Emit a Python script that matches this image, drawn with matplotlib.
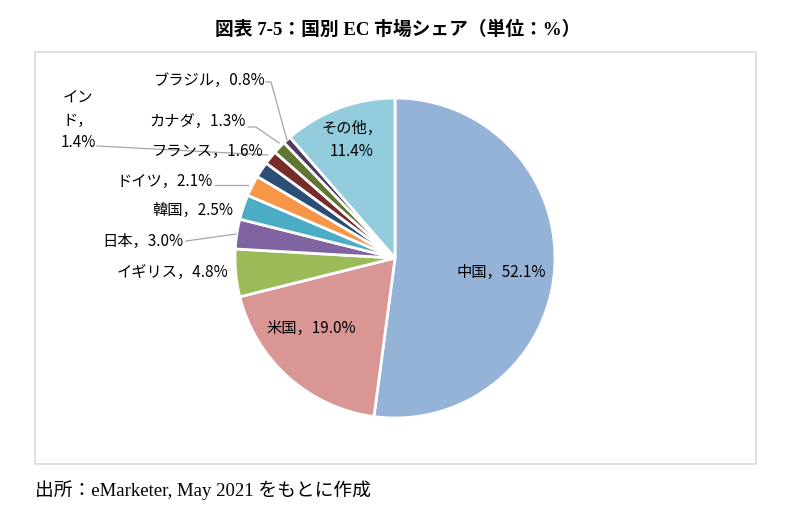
import matplotlib
matplotlib.use("Agg")
import matplotlib.pyplot as plt
from matplotlib.patches import Rectangle

plt.rcParams['font.family'] = ['Noto Sans CJK JP', 'DejaVu Sans']

categories = ["中国", "米国", "イギリス", "日本", "韓国", "ドイツ", "フランス", "インド", "カナダ", "ブラジル", "その他"]
values = [52.1, 19.0, 4.8, 3.0, 2.5, 2.1, 1.6, 1.4, 1.3, 0.8, 11.4]
colors = ["#95B3D7", "#D99694", "#9BBB59", "#8064A2", "#4BACC6", "#F79646",
          "#2C4D75", "#772C2A", "#5F7530", "#4D3B62", "#93CDDD"]
title = "図表 7-5：国別 EC 市場シェア（単位：%）"
source = "出所：eMarketer, May 2021 をもとに作成"

W, H = 800, 519
fig = plt.figure(figsize=(W / 100, H / 100), dpi=100)
ax = fig.add_axes([0, 0, 1, 1])


def Y(y):
    return H - y


# chart border
ax.add_patch(Rectangle((35, Y(464)), 721, 412, fill=False, edgecolor="#D9D9D9", linewidth=1.2))

cx, cy, r = 395, 258, 160
wedges, _ = ax.pie(values, colors=colors, startangle=90, counterclock=False,
                   center=(cx, Y(cy)), radius=r, frame=True,
                   wedgeprops=dict(edgecolor="white", linewidth=2))
ax.set_xlim(0, W)
ax.set_ylim(0, H)
ax.set_aspect("auto")
ax.axis("off")

fs = 11
lab = {c: f"{c}，{v}%" for c, v in zip(categories, values)}

# inside labels
ax.text(501, Y(272), lab["中国"], ha="center", va="center", fontsize=fs)
ax.text(311, Y(328), lab["米国"], ha="center", va="center", fontsize=fs)
ax.text(352, Y(140), "その他，\n11.4%", ha="center", va="center", fontsize=fs, linespacing=1.45)

# outside labels
ax.text(228, Y(272), lab["イギリス"], ha="right", va="center", fontsize=fs)
ax.text(183, Y(241), lab["日本"], ha="right", va="center", fontsize=fs)
ax.text(233, Y(210), lab["韓国"], ha="right", va="center", fontsize=fs)
ax.text(213, Y(181), lab["ドイツ"], ha="right", va="center", fontsize=fs)
ax.text(263, Y(151), lab["フランス"], ha="right", va="center", fontsize=fs)
ax.text(246, Y(121), lab["カナダ"], ha="right", va="center", fontsize=fs)
ax.text(265, Y(80), lab["ブラジル"], ha="right", va="center", fontsize=fs)
ax.text(78, Y(120), "イン\nド，\n1.4%", ha="center", va="center", fontsize=fs, linespacing=1.4)

lc = "#A6A6A6"
lw = 0.9
ax.plot([186, 236], [Y(241), Y(234)], color=lc, lw=lw)
ax.plot([215, 248], [Y(185), Y(185)], color=lc, lw=lw)
ax.plot([97, 268], [Y(146), Y(155)], color=lc, lw=lw)
ax.plot([248, 256, 279], [Y(127), Y(127), Y(143)], color=lc, lw=lw)
ax.plot([266, 271, 287], [Y(82), Y(82), Y(140)], color=lc, lw=lw)

# title and source
fig.text(398 / W, 1 - 30 / H, title, ha="center", va="center", fontsize=13.5,
         fontweight="bold", family=['Liberation Serif', 'Noto Sans CJK JP'])
fig.text(35 / W, 1 - 490 / H, source, ha="left", va="center", fontsize=13.5,
         family=['Liberation Serif', 'Noto Sans CJK JP'])

fig.savefig("out.png", dpi=100)
